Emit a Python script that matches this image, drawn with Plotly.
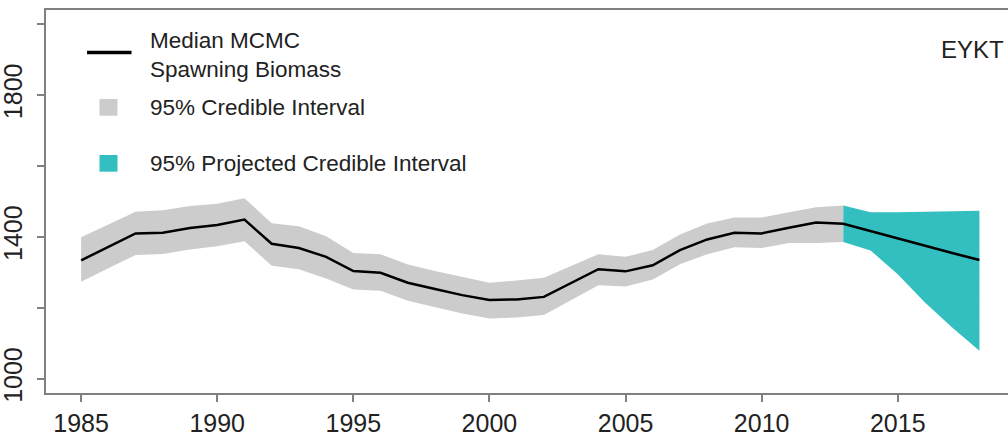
import plotly.graph_objects as go

# ---- data ----
hist_years = list(range(1985, 2014))
hist_median = [1334, 1372, 1410, 1412, 1425, 1434, 1449, 1381, 1369, 1344,
               1304, 1299, 1271, 1253, 1236, 1222, 1224, 1231, 1271, 1309,
               1303, 1320, 1363, 1393, 1412, 1410, 1426, 1441, 1437]
hist_upper = [1399, 1435, 1471, 1475, 1487, 1494, 1509, 1439, 1430, 1402,
              1355, 1351, 1322, 1304, 1287, 1271, 1277, 1285, 1318, 1351,
              1344, 1363, 1407, 1438, 1455, 1455, 1470, 1484, 1489]
hist_lower = [1274, 1312, 1349, 1352, 1365, 1374, 1388, 1319, 1309, 1283,
              1252, 1248, 1220, 1201, 1184, 1170, 1173, 1180, 1222, 1264,
              1260, 1280, 1323, 1351, 1371, 1369, 1383, 1383, 1386]

proj_years = [2013, 2014, 2015, 2016, 2017, 2018]
proj_median = [1437, 1416, 1396, 1376, 1355, 1335]
proj_upper = [1489, 1470, 1470, 1471, 1472, 1474]
proj_lower = [1386, 1362, 1295, 1215, 1145, 1079]

x_ticks = [1985, 1990, 1995, 2000, 2005, 2010, 2015]
y_ticks = [1000, 1200, 1400, 1600, 1800, 2000]
y_ticktext = ["1000", "", "1400", "", "1800", ""]

GRAY = "#cccccc"
TEAL = "#33bfbf"
FONT = "Liberation Sans, Arial, Helvetica, sans-serif"

fig = go.Figure()

fig.add_trace(go.Scatter(
    x=hist_years + hist_years[::-1],
    y=hist_upper + hist_lower[::-1],
    fill="toself", fillcolor=GRAY, line=dict(width=0),
    mode="lines", hoverinfo="skip", showlegend=False))

fig.add_trace(go.Scatter(
    x=proj_years + proj_years[::-1],
    y=proj_upper + proj_lower[::-1],
    fill="toself", fillcolor=TEAL, line=dict(width=0),
    mode="lines", hoverinfo="skip", showlegend=False))

fig.add_trace(go.Scatter(
    x=hist_years + proj_years[1:],
    y=hist_median + proj_median[1:],
    mode="lines", line=dict(color="black", width=2.5),
    showlegend=False))

W, H = 1008, 440
L, R, T, B = 46, 0, 10, 47
pw, ph = W - L - R, H - T - B


def px(xp):  # screen pixel -> paper x
    return (xp - L) / pw


def py(yp):  # screen pixel -> paper y
    return (H - B - yp) / ph


shapes = [
    dict(type="line", xref="paper", yref="paper", x0=px(87), x1=px(131.5),
         y0=py(52.5), y1=py(52.5), line=dict(color="black", width=3.5)),
    dict(type="rect", xref="paper", yref="paper", x0=px(99.5), x1=px(117.5),
         y0=py(115.7), y1=py(99), fillcolor=GRAY, line=dict(width=0)),
    dict(type="rect", xref="paper", yref="paper", x0=px(99.5), x1=px(117.5),
         y0=py(171.7), y1=py(155), fillcolor=TEAL, line=dict(width=0)),
]

leg_font = dict(family=FONT, size=22.5, color="#222222")
annotations = []
for txt, yc in [("Median MCMC", 41), ("Spawning Biomass", 69),
                ("95% Credible Interval", 108),
                ("95% Projected Credible Interval", 163)]:
    annotations.append(dict(text=txt, xref="paper", yref="paper",
                            x=px(148), y=py(yc), xanchor="left",
                            yanchor="middle", showarrow=False, font=leg_font))
annotations.append(dict(text="EYKT", xref="paper", yref="paper",
                        x=px(1006), y=py(50), xanchor="right",
                        yanchor="middle", showarrow=False,
                        font=dict(family=FONT, size=24, color="#222222")))

axis_common = dict(showline=True, linecolor="#808080", linewidth=1.5,
                   ticks="outside", ticklen=7, tickwidth=1.5,
                   tickcolor="#808080", showgrid=False, zeroline=False,
                   automargin=False,
                   tickfont=dict(family=FONT, size=25, color="#222222"))

fig.update_layout(
    width=W, height=H,
    margin=dict(l=L, r=R, t=T, b=B, pad=0, autoexpand=False),
    paper_bgcolor="white", plot_bgcolor="white",
    showlegend=False,
    shapes=shapes, annotations=annotations,
    xaxis=dict(range=[1983.71, 2019.05], tickvals=x_ticks, mirror=True,
               **axis_common),
    yaxis=dict(range=[960, 2040], tickvals=y_ticks, ticktext=y_ticktext,
               tickangle=-90, mirror=False, ticklabelstandoff=5,
               **axis_common),
)

fig.write_html(
    "out.html",
    config={"displayModeBar": False},
    post_script=("document.body.style.margin='0';"
                 "document.body.style.overflow='hidden';"
                 "document.documentElement.style.overflow='hidden';"),
)
